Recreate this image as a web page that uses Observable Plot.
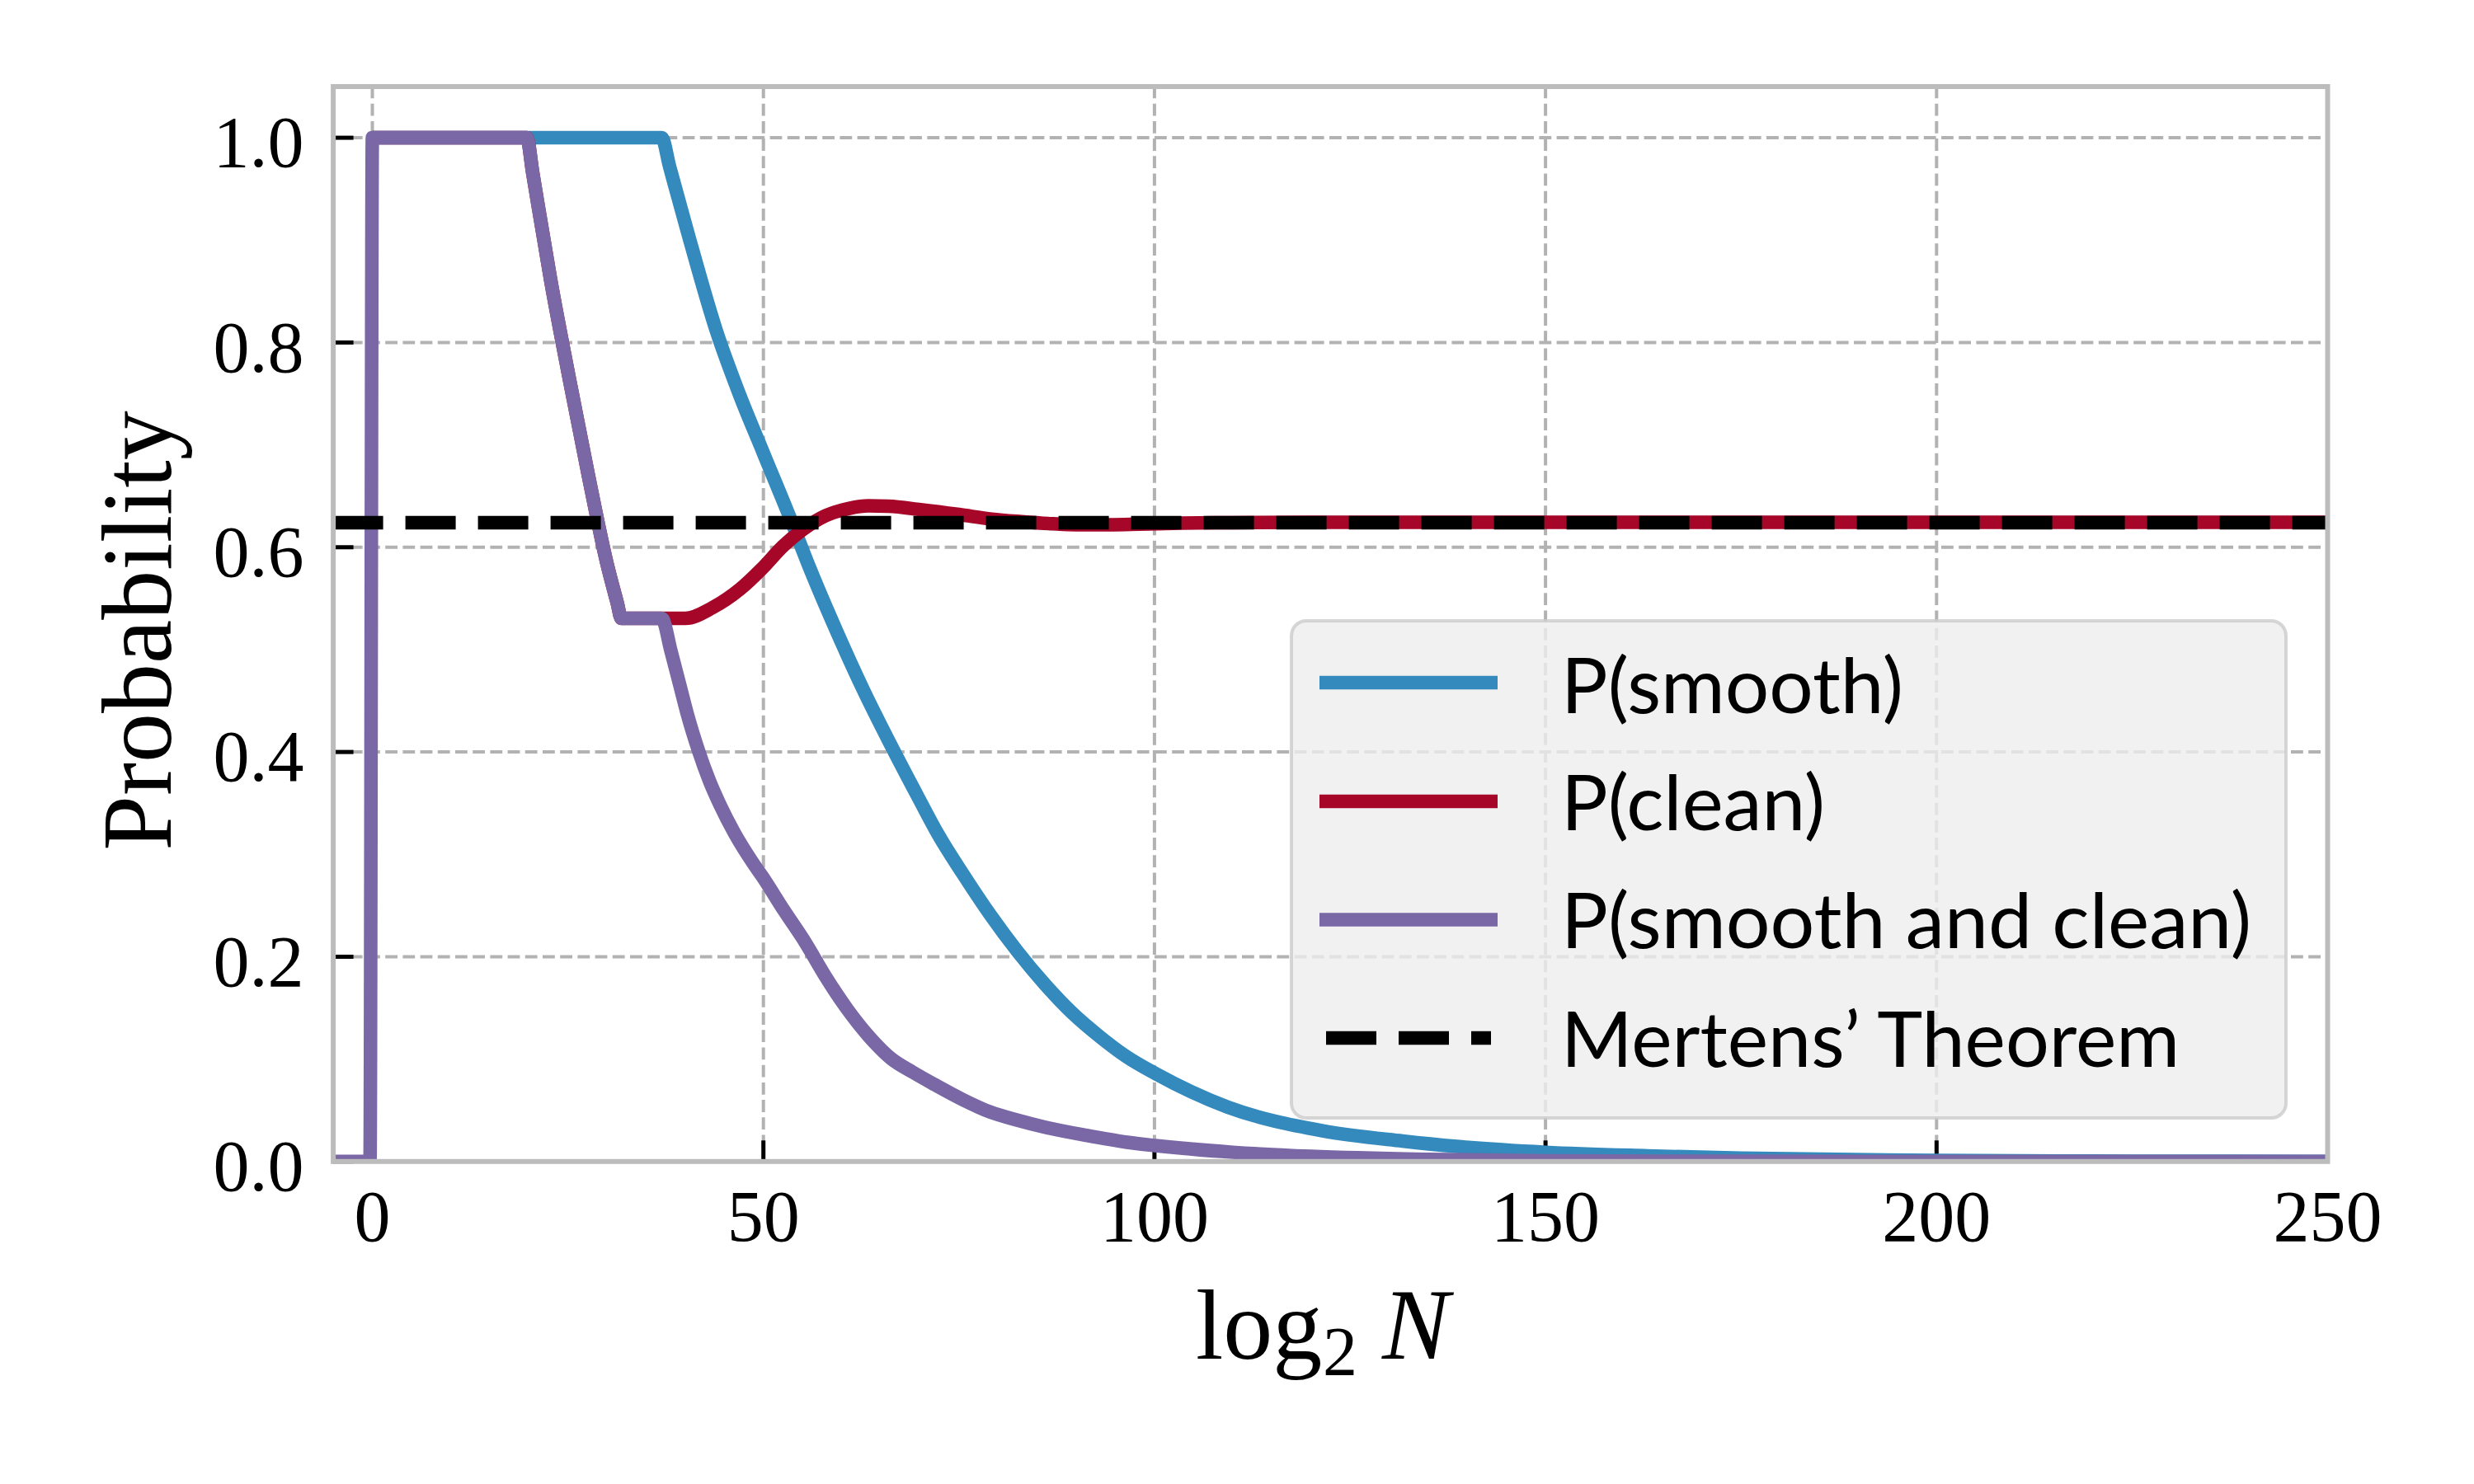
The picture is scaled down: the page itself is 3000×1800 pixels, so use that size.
<!DOCTYPE html>
<html><head><meta charset="utf-8">
<script src="https://cdn.jsdelivr.net/npm/d3@7"></script>
<script src="https://cdn.jsdelivr.net/npm/@observablehq/plot@0.6"></script>
<style>
body{margin:0;background:#fff;}
#wrap{position:relative;width:3000px;height:1800px;}
#wrap svg{position:absolute;left:0;top:0;}
</style></head><body><div id="wrap"></div>
<script>
// ---- data ----
const smoothX = [0, 37.0, 38.0, 40.3, 44.0, 47.0, 50.0, 53.6, 55.8, 59.3, 62.8, 66.3, 69.8, 72.3, 75.5, 79.0, 82.5, 86.0, 89.5, 93.0, 96.5, 100.1, 109.4, 121.5, 131.7, 138.6, 150, 163, 175, 200, 225, 250];
const smoothY = [1, 1, 0.972, 0.908, 0.811, 0.748, 0.692, 0.625, 0.582, 0.519, 0.4603, 0.4067, 0.3556, 0.320, 0.281, 0.241, 0.205, 0.173, 0.145, 0.122, 0.102, 0.086, 0.053, 0.030, 0.020, 0.0147, 0.009, 0.0055, 0.0032, 0.001, 0.0003, 0.0001];

const cleanX = [0, 19.75, 20.5, 22.8, 25.2, 27.6, 30.0, 31.3, 31.85, 40.0, 43.5, 47.0, 49.8, 52.5, 55.0, 58.0, 61.0, 63.4, 66.0, 70.1, 75.0, 79.2, 83.0, 87.0, 90.0, 94.3, 98.0, 103.4, 110, 120, 250];
const cleanY = [1, 1, 0.966, 0.861, 0.764, 0.671, 0.584, 0.546, 0.5305, 0.5305, 0.541, 0.559, 0.579, 0.601, 0.617, 0.631, 0.638, 0.6404, 0.640, 0.6367, 0.632, 0.6275, 0.625, 0.6229, 0.622, 0.622, 0.6225, 0.6235, 0.624, 0.6243, 0.6243];

const bothX = [-5, -0.3, 0, 19.75, 20.5, 22.8, 25.2, 27.6, 30.0, 31.3, 31.85, 37.0, 38.2, 39.3, 40.3, 41.7, 43.1, 44.5, 46.3, 48.7, 49.9, 52.6, 55.4, 57.9, 60.7, 63.5, 66.3, 69.1, 71.9, 75.5, 79.0, 82.5, 86.0, 91.3, 96.5, 100.1, 110, 120, 135, 150, 175, 250];
const bothY = [0, 0, 1, 1, 0.966, 0.861, 0.764, 0.671, 0.584, 0.546, 0.5305, 0.5305, 0.498, 0.4657, 0.4362, 0.4013, 0.3718, 0.3476, 0.3208, 0.2912, 0.278, 0.2456, 0.2134, 0.1812, 0.149, 0.1221, 0.1007, 0.0872, 0.0751, 0.0604, 0.0483, 0.0403, 0.0335, 0.0255, 0.0188, 0.0155, 0.009, 0.005, 0.002, 0.0007, 0.0002, 0];

const mertens = 0.624;

const xTicks = [0, 50, 100, 150, 200, 250];
const yTicks = [0, 0.2, 0.4, 0.6, 0.8, 1.0];
const xDomain = [-5, 250];
const yDomain = [0, 1.05];

const seriesNames = ["P(smooth)", "P(clean)", "P(smooth and clean)", "Mertens’ Theorem"];
const seriesColors = ["#348ABD", "#A60628", "#7A68A6", "#000000"];

// ---- build ----
const toPts = (xs, ys) => xs.map((x, i) => ({x, y: ys[i]}));
const W = 3000, H = 1800;
const mL = 403.6, mR = 178, mT = 104.5, mB = 391.7;
const LW = 16.5;
const serif = "'Liberation Serif', 'DejaVu Serif', serif";

const lineOpts = (c) => ({x: "x", y: "y", stroke: c, strokeWidth: LW, strokeLinejoin: "round", strokeLinecap: "butt", curve: "monotone-x", clip: true});
const gridOpts = {stroke: "#b2b2b2", strokeOpacity: 1, strokeWidth: 4, strokeDasharray: "14.8,6.4"};

const chart = Plot.plot({
  width: W, height: H,
  marginLeft: mL, marginRight: mR, marginTop: mT, marginBottom: mB,
  x: {domain: xDomain},
  y: {domain: yDomain},
  style: {fontFamily: serif, fontSize: "88px", color: "#000", background: "white"},
  marks: [
    Plot.gridX(xTicks, gridOpts),
    Plot.gridY(yTicks, gridOpts),
    Plot.axisX(xTicks, {tickSize: -25, strokeWidth: 5, fill: "none", label: null}),
    Plot.axisY(yTicks, {tickSize: -25, strokeWidth: 5, fill: "none", label: null}),
    Plot.line(toPts(smoothX, smoothY), lineOpts(seriesColors[0])),
    Plot.line(toPts(cleanX, cleanY), lineOpts(seriesColors[1])),
    Plot.line(toPts(bothX, bothY), lineOpts(seriesColors[2])),
    Plot.ruleY([mertens], {stroke: seriesColors[3], strokeWidth: LW, strokeDasharray: "61,27"}),
    Plot.frame({stroke: "#bcbcbc", strokeWidth: 6}),
    Plot.axisX(xTicks, {tickSize: 0, tickPadding: 34, tickFormat: d => String(d), label: null, fontSize: 88, fontFamily: serif}),
    Plot.axisY(yTicks, {tickSize: 0, tickPadding: 35.6, tickFormat: d3.format(".1f"), label: null, fontSize: 88, fontFamily: serif, dy: 7})
  ]
});
const wrap = document.getElementById("wrap");
wrap.appendChild(chart);

// ---- axis titles and legend (overlay) ----
const ov = d3.select(wrap).append("svg")
  .attr("width", W).attr("height", H)
  .style("pointer-events", "none");

ov.append("text")
  .attr("transform", "translate(207,765) rotate(-90)")
  .attr("text-anchor", "middle")
  .attr("font-family", serif).attr("font-size", 120)
  .text("Probability");

const xl = ov.append("text").attr("font-family", serif).attr("font-size", 120);
xl.append("tspan").attr("x", 1450).attr("y", 1648).text("log");
xl.append("tspan").attr("x", 1604).attr("y", 1668).attr("font-size", 84).text("2");
ov.append("text").attr("x", 1676).attr("y", 1648)
  .attr("font-family", serif).attr("font-size", 122).attr("font-style", "italic")
  .text("N");

const leg = ov.append("g");
leg.append("rect")
  .attr("x", 1566).attr("y", 753).attr("width", 1206).attr("height", 603)
  .attr("rx", 18).attr("ry", 18)
  .attr("fill", "#eeeeee").attr("fill-opacity", 0.8)
  .attr("stroke", "#cccccc").attr("stroke-opacity", 0.8).attr("stroke-width", 4);

const rowY = [828, 972, 1115.5, 1259];
const baseY = [865, 1007, 1150, 1294];
const textW = [415, 320, 837, 750];
seriesNames.forEach((name, i) => {
  if (i < 3) {
    leg.append("line").attr("x1", 1600).attr("x2", 1816).attr("y1", rowY[i]).attr("y2", rowY[i])
      .attr("stroke", seriesColors[i]).attr("stroke-width", LW);
  } else {
    leg.append("line").attr("x1", 1608).attr("x2", 1808).attr("y1", rowY[i]).attr("y2", rowY[i])
      .attr("stroke", seriesColors[i]).attr("stroke-width", LW).attr("stroke-dasharray", "61,27");
  }
  leg.append("text").attr("x", 1893).attr("y", baseY[i])
    .attr("font-family", "Lato, 'Open Sans', sans-serif").attr("font-size", 94)
    .attr("textLength", textW[i]).attr("lengthAdjust", "spacingAndGlyphs")
    .text(name);
});
</script>
</body></html>
